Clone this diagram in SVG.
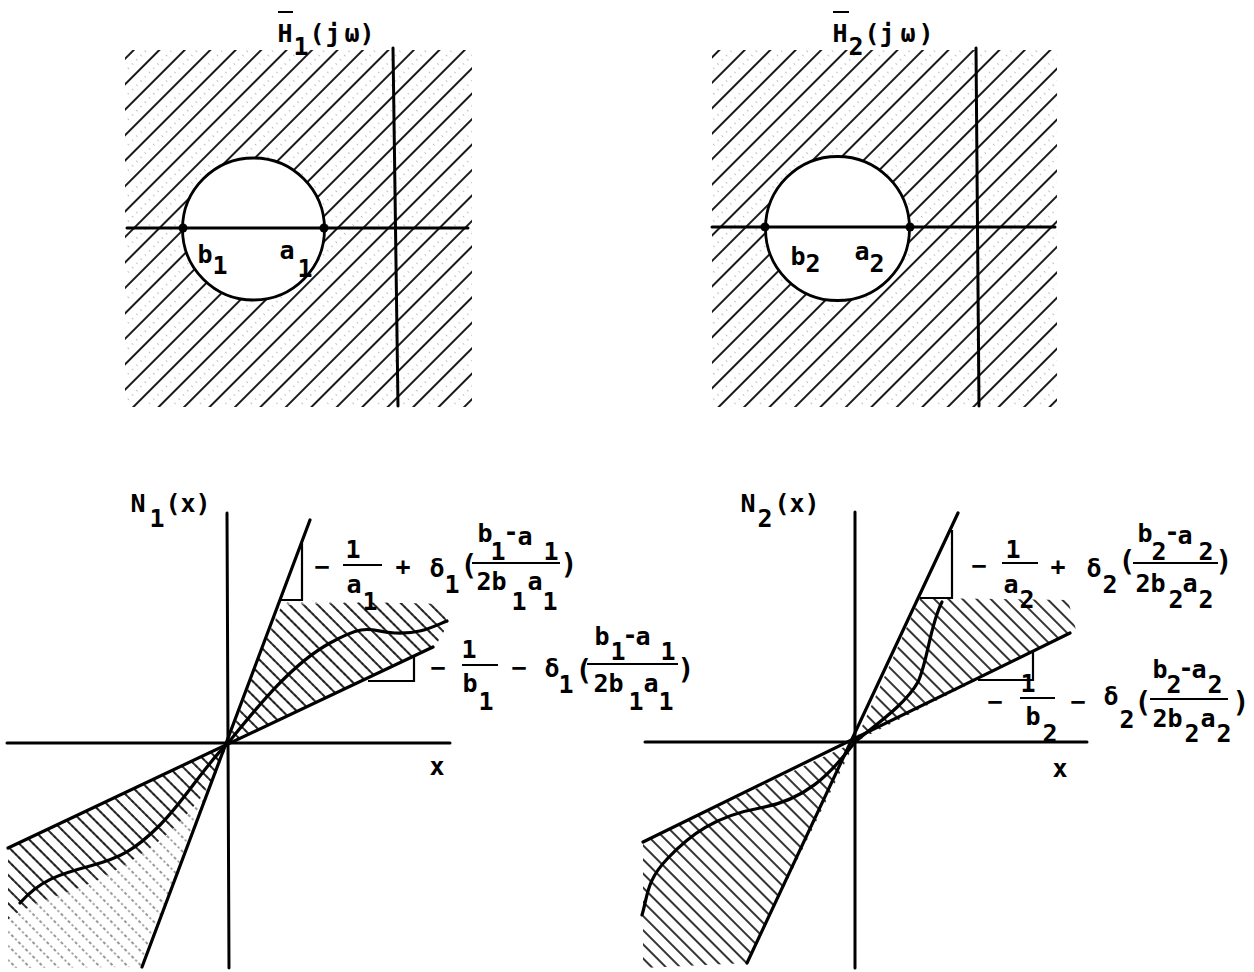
<svg xmlns="http://www.w3.org/2000/svg" width="1254" height="972" viewBox="0 0 1254 972">
<defs>
<style>
.ax{stroke:#000;stroke-width:3;fill:none;stroke-linecap:round}
.ln{stroke:#000;stroke-width:3.2;fill:none;stroke-linecap:round;stroke-linejoin:round}
.th{stroke:#000;stroke-width:2.2;fill:none}
.bar{stroke:#000;stroke-width:2;fill:none}
.t{font-family:"DejaVu Sans Mono","Liberation Mono",monospace;font-size:25px;font-weight:bold;fill:#000;text-anchor:middle}
.p{font-size:28px;font-weight:bold}
.dot{fill:#000}
</style>
<pattern id="hTop" patternUnits="userSpaceOnUse" width="18" height="18" patternTransform="rotate(-45)">
<line x1="0" y1="4" x2="18" y2="4" stroke="#000" stroke-width="1.8"/>
<line x1="0" y1="13" x2="18" y2="13" stroke="#777" stroke-width="0.9" stroke-dasharray="1 5"/>
</pattern>
<pattern id="hBot" patternUnits="userSpaceOnUse" width="10" height="10" patternTransform="rotate(45)">
<line x1="0" y1="3" x2="10" y2="3" stroke="#000" stroke-width="1.6"/>
</pattern>
<pattern id="hBotDot" patternUnits="userSpaceOnUse" width="10" height="10" patternTransform="rotate(45)">
<line x1="0" y1="3" x2="10" y2="3" stroke="#333" stroke-width="1.2" stroke-dasharray="2 2.5"/>
</pattern>
<clipPath id="cBL1"><polygon points="228,743 280,600 440,604 448,624 435,647"/></clipPath>
<clipPath id="cBL2"><polygon points="228,743 8,848 8,968 142,967"/></clipPath>
<clipPath id="cBR1"><polygon points="855,742 920,598 1068,600 1076,630 1070,633"/></clipPath>
<clipPath id="cBR2"><polygon points="855,742 643,842 643,968 747,963"/></clipPath>
</defs>
<rect width="1254" height="972" fill="#fff"/>

<g id="panel-h1">
<path d="M125,50 H472 V407 H125 Z M182.5,229 a71,71 0 1,0 142,0 a71,71 0 1,0 -142,0 Z" fill="url(#hTop)" fill-rule="evenodd"/>
<line class="ax" x1="127" y1="228" x2="468" y2="228"/>
<line class="ax" x1="393" y1="48" x2="398" y2="406"/>
<circle cx="253.5" cy="229" r="71" fill="none" stroke="#000" stroke-width="2.8"/>
<circle class="dot" cx="183" cy="228" r="4.5"/>
<circle class="dot" cx="324" cy="228" r="4.5"/>
<line class="bar" x1="278" y1="12" x2="293" y2="12"/>
<text class="t"><tspan x="285" y="42">H</tspan><tspan x="301" y="55">1</tspan><tspan x="317" y="42">(</tspan><tspan x="333" y="42">j</tspan><tspan x="352" y="42">ω</tspan><tspan x="367" y="42">)</tspan></text>
<text class="t"><tspan x="205" y="263">b</tspan><tspan x="220" y="274">1</tspan></text>
<text class="t"><tspan x="287" y="259">a</tspan><tspan x="305" y="277">1</tspan></text>
</g>

<g id="panel-h2">
<path d="M712,50 H1057 V407 H712 Z M765.5,228.5 a72,72 0 1,0 144,0 a72,72 0 1,0 -144,0 Z" fill="url(#hTop)" fill-rule="evenodd"/>
<line class="ax" x1="712" y1="227" x2="1055" y2="227"/>
<line class="ax" x1="976" y1="48" x2="979" y2="406"/>
<circle cx="837.5" cy="228.5" r="72" fill="none" stroke="#000" stroke-width="2.8"/>
<circle class="dot" cx="765" cy="227" r="4.5"/>
<circle class="dot" cx="910" cy="227" r="4.5"/>
<line class="bar" x1="833" y1="12" x2="849" y2="12"/>
<text class="t"><tspan x="840" y="42">H</tspan><tspan x="856" y="55">2</tspan><tspan x="872" y="42">(</tspan><tspan x="887" y="42">j</tspan><tspan x="908" y="42">ω</tspan><tspan x="926" y="42">)</tspan></text>
<text class="t"><tspan x="798" y="265">b</tspan><tspan x="813" y="272">2</tspan></text>
<text class="t"><tspan x="862" y="260">a</tspan><tspan x="877" y="272">2</tspan></text>
</g>

<g id="panel-n1">
<g clip-path="url(#cBL1)">
<rect x="220" y="590" width="240" height="160" fill="url(#hBotDot)"/>
<path d="M228,743 L262,650 L282,605 L460,600 L460,660 L228,760 Z" fill="url(#hBot)"/>
</g>
<g clip-path="url(#cBL2)">
<rect x="0" y="740" width="240" height="232" fill="url(#hBotDot)"/>
<path d="M228,743 L215,775 C195,810 170,835 140,855 S90,885 60,895 S20,910 0,925 L0,840 Z" fill="url(#hBot)"/>
</g>
<line class="ax" x1="227" y1="513" x2="229" y2="968"/>
<line class="ax" x1="7" y1="743" x2="450" y2="743"/>
<line class="ln" x1="142" y1="967" x2="310" y2="520"/>
<line class="ln" x1="8" y1="848" x2="433" y2="647"/>
<polyline class="th" points="280,600 302,600 302,543"/>
<polyline class="th" points="368,681 414,681 414,656"/>
<path class="ln" d="M228,743 C255,710 290,665 330,643 S370,632 395,633 S430,628 447,621"/>
<path class="ln" d="M228,743 C205,765 185,800 160,825 S120,858 90,866 S40,880 20,903"/>
<text class="t"><tspan x="138" y="512">N</tspan><tspan x="157" y="527">1</tspan><tspan x="173" y="512">(</tspan><tspan x="188" y="512">x</tspan><tspan x="203" y="512">)</tspan></text>
<text class="t" x="437" y="775">x</text>
<text class="t"><tspan x="322" y="575">−</tspan><tspan x="353" y="558">1</tspan><tspan x="354" y="593">a</tspan><tspan x="370" y="610">1</tspan><tspan x="403" y="575">+</tspan><tspan x="437" y="577">δ</tspan><tspan x="452" y="593">1</tspan><tspan class="p" x="469" y="575">(</tspan><tspan x="485" y="542">b</tspan><tspan x="498" y="560">1</tspan><tspan x="511" y="540">-</tspan><tspan x="525" y="545">a</tspan><tspan x="551" y="560">1</tspan><tspan x="484" y="590">2</tspan><tspan x="499" y="590">b</tspan><tspan x="519" y="610">1</tspan><tspan x="535" y="590">a</tspan><tspan x="550" y="610">1</tspan><tspan class="p" x="569" y="574">)</tspan></text>
<line class="bar" x1="343" y1="565" x2="382" y2="565"/>
<line class="bar" x1="472" y1="563" x2="560" y2="563"/>
<text class="t"><tspan x="438" y="676">−</tspan><tspan x="469" y="658">1</tspan><tspan x="470" y="692">b</tspan><tspan x="486" y="710">1</tspan><tspan x="519" y="676">−</tspan><tspan x="552" y="677">δ</tspan><tspan x="566" y="693">1</tspan><tspan class="p" x="584" y="680">(</tspan><tspan x="602" y="645">b</tspan><tspan x="618" y="660">1</tspan><tspan x="630" y="643">-</tspan><tspan x="643" y="645">a</tspan><tspan x="668" y="660">1</tspan><tspan x="601" y="692">2</tspan><tspan x="616" y="692">b</tspan><tspan x="636" y="710">1</tspan><tspan x="651" y="692">a</tspan><tspan x="666" y="710">1</tspan><tspan class="p" x="686" y="679">)</tspan></text>
<line class="bar" x1="462" y1="665" x2="498" y2="665"/>
<line class="bar" x1="587" y1="664" x2="678" y2="664"/>
</g>

<g id="panel-n2">
<g clip-path="url(#cBR1)"><rect x="850" y="590" width="230" height="160" fill="url(#hBot)"/></g>
<g clip-path="url(#cBR2)"><rect x="640" y="740" width="220" height="232" fill="url(#hBot)"/></g>
<line class="ax" x1="855" y1="512" x2="855" y2="968"/>
<line class="ax" x1="645" y1="742" x2="1087" y2="742"/>
<line class="ln" x1="747" y1="963" x2="958" y2="513"/>
<line class="ln" x1="643" y1="842" x2="1070" y2="633"/>
<polyline class="th" points="920,598 952,598 952,530"/>
<polyline class="th" points="978,680 1033,680 1033,652"/>
<path class="ln" d="M855,742 C875,725 905,705 918,682 C928,660 930,625 942,602"/>
<path class="ln" d="M855,742 C830,775 805,800 760,808 S690,835 668,858 S648,895 642,915"/>
<text class="t"><tspan x="748" y="512">N</tspan><tspan x="765" y="527">2</tspan><tspan x="782" y="512">(</tspan><tspan x="797" y="512">x</tspan><tspan x="812" y="512">)</tspan></text>
<text class="t" x="1060" y="777">x</text>
<text class="t"><tspan x="979" y="574">−</tspan><tspan x="1013" y="558">1</tspan><tspan x="1011" y="593">a</tspan><tspan x="1027" y="608">2</tspan><tspan x="1058" y="575">+</tspan><tspan x="1094" y="577">δ</tspan><tspan x="1110" y="593">2</tspan><tspan class="p" x="1127" y="571">(</tspan><tspan x="1145" y="542">b</tspan><tspan x="1159" y="560">2</tspan><tspan x="1172" y="540">-</tspan><tspan x="1185" y="544">a</tspan><tspan x="1206" y="560">2</tspan><tspan x="1143" y="592">2</tspan><tspan x="1158" y="592">b</tspan><tspan x="1176" y="608">2</tspan><tspan x="1190" y="592">a</tspan><tspan x="1206" y="608">2</tspan><tspan class="p" x="1224" y="571">)</tspan></text>
<line class="bar" x1="1002" y1="563" x2="1038" y2="563"/>
<line class="bar" x1="1133" y1="563" x2="1218" y2="563"/>
<text class="t"><tspan x="995" y="710">−</tspan><tspan x="1028" y="692">1</tspan><tspan x="1033" y="725">b</tspan><tspan x="1050" y="742">2</tspan><tspan x="1078" y="710">−</tspan><tspan x="1111" y="705">δ</tspan><tspan x="1127" y="728">2</tspan><tspan class="p" x="1143" y="712">(</tspan><tspan x="1160" y="678">b</tspan><tspan x="1174" y="693">2</tspan><tspan x="1186" y="676">-</tspan><tspan x="1199" y="678">a</tspan><tspan x="1215" y="693">2</tspan><tspan x="1160" y="727">2</tspan><tspan x="1175" y="727">b</tspan><tspan x="1192" y="742">2</tspan><tspan x="1208" y="727">a</tspan><tspan x="1224" y="742">2</tspan><tspan class="p" x="1241" y="712">)</tspan></text>
<line class="bar" x1="1020" y1="698" x2="1055" y2="698"/>
<line class="bar" x1="1150" y1="699" x2="1228" y2="699"/>
</g>
</svg>
